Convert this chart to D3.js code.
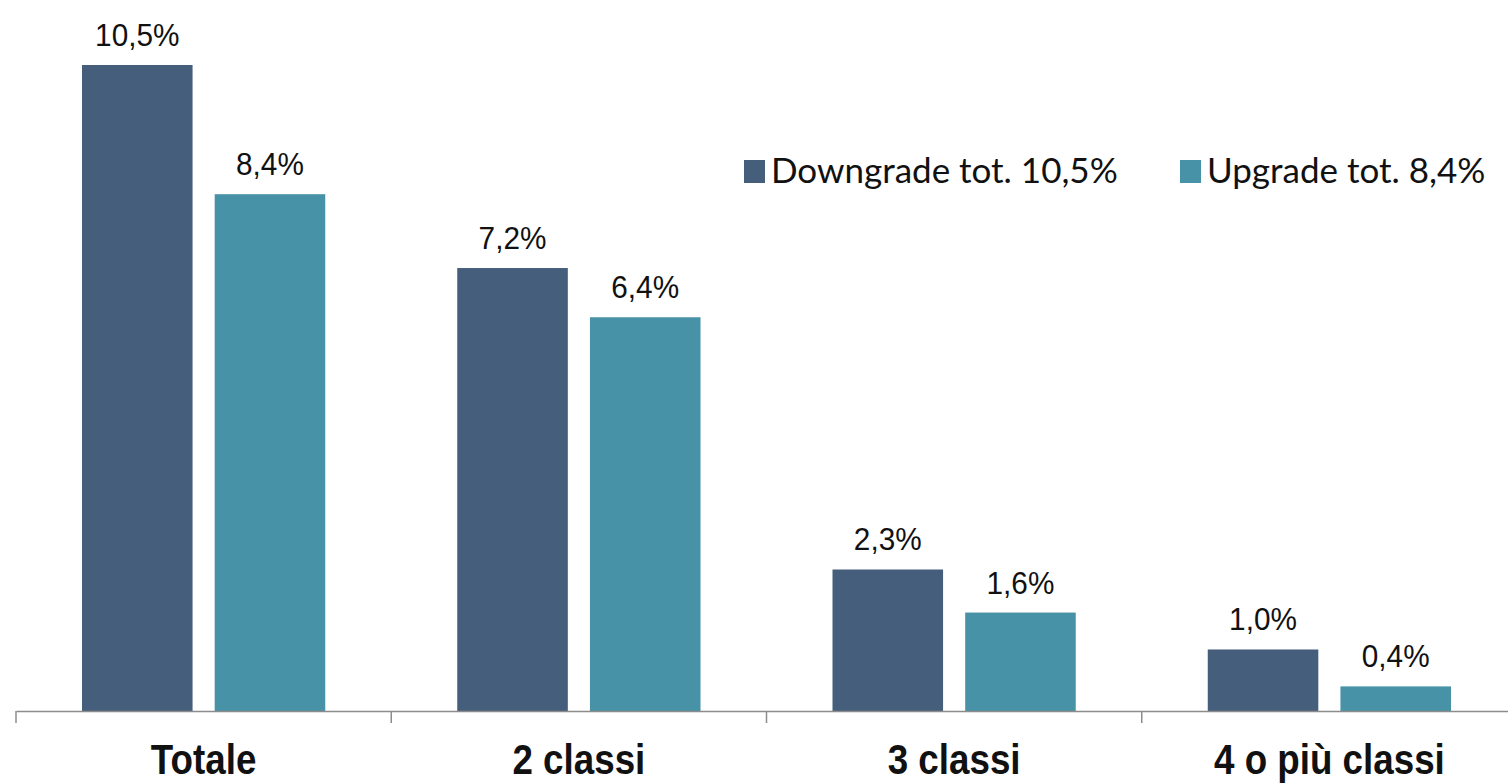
<!DOCTYPE html>
<html>
<head>
<meta charset="utf-8">
<script src="https://cdn.jsdelivr.net/npm/d3@7"></script>
<style>
  body { margin: 0; background: #fff; }
  svg { display: block; }
  .val { font-family: "Liberation Sans", Arial, sans-serif; font-size: 32px; fill: #111; }
  .cat { font-family: "Liberation Sans", Arial, sans-serif; font-size: 42px; font-weight: bold; fill: #111; }
  .leg { font-family: Lato, "Open Sans", sans-serif; font-size: 35px; fill: #111; }
</style>
</head>
<body>
<svg id="chart" width="1508" height="783"></svg>
<script>
// data
const categories = ["Totale", "2 classi", "3 classi", "4 o più classi"];
const seriesNames = ["Downgrade tot. 10,5%", "Upgrade tot. 8,4%"];
const downgrade = [10.5, 7.2, 2.3, 1.0];
const upgrade = [8.4, 6.4, 1.6, 0.4];
const colors = ["#455e7b", "#4892a7"];

let svg = d3.select("#chart");
let baseY = 711;

// squeeze a text horizontally, to look like a narrow font
function condense(sel, factor) {
    sel.each(function() {
        let w = this.getComputedTextLength();
        d3.select(this)
            .attr("textLength", w * factor)
            .attr("lengthAdjust", "spacingAndGlyphs");
    });
}

let x0 = d3.scaleBand()
    .domain(categories)
    .range([16, 1517])
    .padding(0);

// two bars per group, 110 wide with ~22 gap, centered in the band
let x1 = d3.scaleBand()
    .domain([0, 1])
    .range([66, x0.bandwidth() - 66])
    .paddingInner(0.1667);

let y = d3.scaleLinear()
    .domain([0, 10.5])
    .range([baseY, 65]);

let rows = categories.map((c, i) => ({cat: c, vals: [downgrade[i], upgrade[i]]}));

let groups = svg.append("g").selectAll("g")
    .data(rows)
    .enter().append("g")
    .attr("transform", d => "translate(" + x0(d.cat) + ",0)");

groups.selectAll("rect")
    .data(d => d.vals.map((v, k) => ({v: v, k: k})))
    .enter().append("rect")
    .attr("x", d => x1(d.k))
    .attr("y", d => y(d.v))
    .attr("width", x1.bandwidth())
    .attr("height", d => baseY - y(d.v))
    .attr("fill", d => colors[d.k]);

groups.selectAll("text.val")
    .data(d => d.vals.map((v, k) => ({v: v, k: k})))
    .enter().append("text")
    .attr("class", "val")
    .attr("x", d => x1(d.k) + x1.bandwidth() / 2)
    .attr("y", d => y(d.v) - 19)
    .attr("text-anchor", "middle")
    .text(d => d3.format(".1f")(d.v).replace(".", ",") + "%")
    .call(condense, 0.93);

// axis: line + category labels, ticks at band boundaries
let xAxis = d3.axisBottom(x0).tickSize(0).tickSizeOuter(0);
let axisG = svg.append("g")
    .attr("transform", "translate(0," + baseY + ")")
    .call(xAxis);
axisG.attr("font-size", null).attr("font-family", null);
axisG.select(".domain").attr("stroke", "#8c8c8c").attr("stroke-width", 1.5);
axisG.selectAll(".tick text")
    .attr("class", "cat")
    .attr("y", 63)
    .attr("dy", 0)
    .attr("fill", null)
    .call(condense, 0.875);

let bounds = categories.map(c => x0(c));
svg.append("g").selectAll("line")
    .data(bounds)
    .enter().append("line")
    .attr("x1", d => d).attr("x2", d => d)
    .attr("y1", baseY).attr("y2", baseY + 12)
    .attr("stroke", "#8c8c8c")
    .attr("stroke-width", 1.5);

// legend
let legendX = [744, 1180];
let leg = svg.append("g").selectAll("g")
    .data(seriesNames)
    .enter().append("g")
    .attr("transform", (d, i) => "translate(" + legendX[i] + ",160)");
leg.append("rect")
    .attr("width", 21).attr("height", 23)
    .attr("fill", (d, i) => colors[i]);
leg.append("text")
    .attr("class", "leg")
    .attr("x", 27)
    .attr("y", 23)
    .text(d => d);
</script>
</body>
</html>
